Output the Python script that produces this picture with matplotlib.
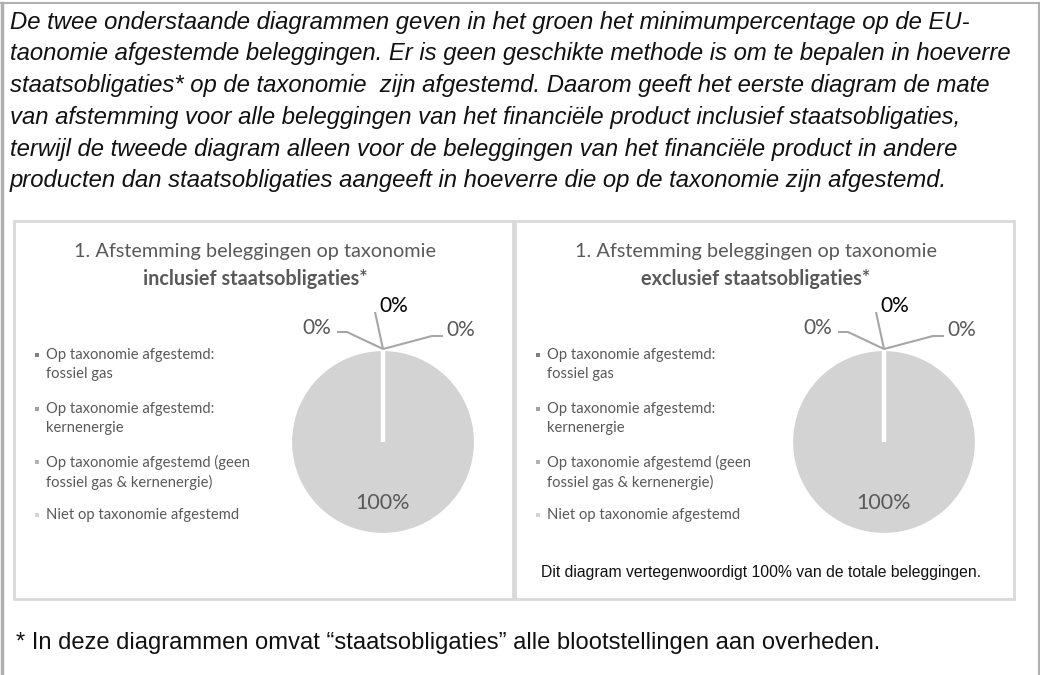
import matplotlib
matplotlib.use("Agg")
import numpy as np
import matplotlib.pyplot as plt
from matplotlib.patches import Rectangle

# --- data ---
categories = [
    "Op taxonomie afgestemd:\nfossiel gas",
    "Op taxonomie afgestemd:\nkernenergie",
    "Op taxonomie afgestemd (geen\nfossiel gas & kernenergie)",
    "Niet op taxonomie afgestemd",
]
incl_values = [0, 0, 0, 100]
excl_values = [0, 0, 0, 100]
colors = ["#7f7f7f", "#a0a0a0", "#b4b4b4", "#d3d3d3"]

panel_titles = ["inclusief staatsobligaties*", "exclusief staatsobligaties*"]
title_line1 = "1. Afstemming beleggingen op taxonomie"

intro = [
    "De twee onderstaande diagrammen geven in het groen het minimumpercentage op de EU-",
    "taonomie afgestemde beleggingen. Er is geen geschikte methode is om te bepalen in hoeverre",
    "staatsobligaties* op de taxonomie  zijn afgestemd. Daarom geeft het eerste diagram de mate",
    "van afstemming voor alle beleggingen van het financiële product inclusief staatsobligaties,",
    "terwijl de tweede diagram alleen voor de beleggingen van het financiële product in andere",
    "producten dan staatsobligaties aangeeft in hoeverre die op de taxonomie zijn afgestemd.",
]
footnote = "* In deze diagrammen omvat \u201cstaatsobligaties\u201d alle blootstellingen aan overheden."
excl_note = "Dit diagram vertegenwoordigt 100% van de totale beleggingen."

W, H = 1040, 675
fig = plt.figure(figsize=(W / 100, H / 100), dpi=100)


def fx(x):
    return x / W


def fy(y):
    return 1 - y / H


grey_txt = "#595959"
calibri = ["Lato", "DejaVu Sans"]

# outer frame
fig.add_artist(plt.Line2D([fx(1.5), fx(1.5)], [0, fy(3)], color="#b0b0b0", lw=2.5))
fig.add_artist(plt.Line2D([fx(1038.5), fx(1038.5)], [0, fy(3)], color="#b0b0b0", lw=1.5))
fig.add_artist(plt.Line2D([fx(1), fx(1039)], [fy(3), fy(3)], color="#b0b0b0", lw=1.5))

# intro paragraph
for i, line in enumerate(intro):
    fig.text(fx(10), fy(22 + i * 31.8), line, fontsize=17.2, style="italic",
             family="Liberation Sans", color="#111111", va="center", ha="left")


def draw_panel(x0, values, bold_title, note=None):
    # panel border
    fig.add_artist(Rectangle((fx(x0), fy(599)), (499) / W, (599 - 221) / H,
                             fill=False, edgecolor="#d9d9d9", lw=2))
    cx = x0 + 241
    fig.text(fx(cx), fy(252), title_line1, fontsize=14.3, family=calibri,
             color=grey_txt, ha="center", va="center")
    fig.text(fx(cx), fy(279), bold_title, fontsize=14.3, family=calibri,
             weight="bold", color=grey_txt, ha="center", va="center")

    # legend
    rows = [(355, 374), (409, 428), (462, 482), (515,)]
    for cat, col, ys in zip(categories, colors, rows):
        fig.add_artist(Rectangle((fx(x0 + 21), fy(ys[0] + 2)), 4 / W, 4 / H,
                                 facecolor=col, edgecolor="none"))
        for line, y in zip(cat.split("\n"), ys):
            fig.text(fx(x0 + 32), fy(y), line, fontsize=10.6, family=calibri,
                     color=grey_txt, ha="left", va="center")

    # pie
    r = 93
    pcx, pcy = x0 + 369, 442
    ax = fig.add_axes([fx(pcx - r), fy(pcy + r), 2 * r / W, 2 * r / H])
    wedges, _ = ax.pie(values, colors=colors, startangle=90, counterclock=False,
                       wedgeprops=dict(edgecolor="white", linewidth=3))
    ax.set_xlim(-1, 1)
    ax.set_ylim(-1, 1)
    ax.set_aspect("equal")
    ax.axis("off")
    zero_idx = [i for i, v in enumerate(values) if v == 0]
    for i in zero_idx:
        wedges[i].set_zorder(5)

    # labels: the three zero slices sit at the top, the big one inside
    s = 1 / r  # px -> data units
    leaders = [  # (kink dx, kink dy, end dx, text dx, text dy, ha, color)
        (-36, 17, -46, -52, 21, "right", grey_txt),
        (-8, 37, -8, 11, 43, "center", "#000000"),
        (49, 13, 60, 63, 19, "left", grey_txt),
    ]
    for i, (kx, ky, ex, tx, ty, ha, col) in zip(zero_idx, leaders):
        w = wedges[i]
        th = np.deg2rad((w.theta1 + w.theta2) / 2)
        ax0, ay0 = np.cos(th), np.sin(th)
        ax.plot([ax0, ax0 + kx * s, ax0 + ex * s], [ay0, ay0 + ky * s, ay0 + ky * s],
                color="#a6a6a6", lw=1.5, clip_on=False, solid_capstyle="butt", zorder=6)
        ax.text(ax0 + tx * s, ay0 + ty * s, f"{values[i]}%", ha=ha, va="center",
                fontsize=15, family=calibri, color=col, clip_on=False)
    big = values.index(max(values))
    ax.text(0, -0.66, f"{values[big]}%", ha="center", va="center",
            fontsize=15.5, family=calibri, color=grey_txt)

    if note:
        fig.text(fx(x0 + 246), fy(572), note, fontsize=11.3, family="Liberation Sans",
                 color="#111111", ha="center", va="center")


draw_panel(14, incl_values, panel_titles[0])
draw_panel(515, excl_values, panel_titles[1], excl_note)

fig.text(fx(16), fy(643), footnote, fontsize=17.1, family="Liberation Sans",
         color="#111111", ha="left", va="center")

fig.savefig("out.png", dpi=100)
